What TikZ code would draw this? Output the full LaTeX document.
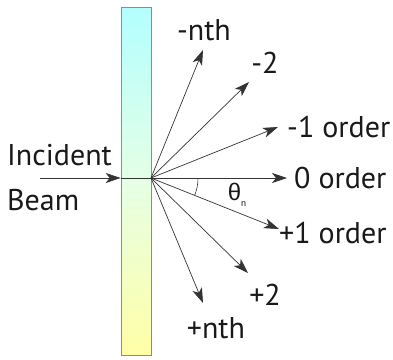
\documentclass[tikz,border=0pt]{standalone}
\usepackage{fontspec}
\setmainfont{PT Sans}
\newfontfamily\greekfont{Liberation Sans}
\usetikzlibrary{positioning,arrows.meta}

\begin{document}
\begin{tikzpicture}[
            x=1pt, y=-1pt,
            every node/.style={font=\fontsize{30}{32}\selectfont, inner sep=0pt, text=black!90},
            beam/.style={draw=black!80, line width=0.7pt, -{Stealth[length=15pt,width=10pt,inset=4pt]}},
            grating/.style={draw=black!45, line width=0.6pt, top color=cyan!30, bottom color=yellow!35,
                            middle color=green!10, minimum width=30pt, minimum height=348pt}
        ]
            \useasboundingbox (0,0) rectangle (393,359);

            % Grating and diffraction point
            \node[grating] (grating) at (136,181) {};
            \coordinate (o) at (151,178);

            % Incident beam
            \coordinate (src) at (40,178);
            \coordinate (hit) at (grating.west |- o);
            \draw[beam] (src) -- (hit);
            \draw[draw=black!80, line width=0.7pt] (hit) -- (o);
            \node[anchor=west] (inc) at (7,155) {Incident};
            \node[anchor=west] (bm) at (7,200) {Beam};

            % Diffracted orders
            \coordinate (mn) at (203,50);
            \coordinate (m2) at (249,82);
            \coordinate (m1) at (278,127);
            \coordinate (z0) at (287,178);
            \coordinate (p1) at (279,229);
            \coordinate (p2) at (248,273);
            \coordinate (pn) at (203,303);
            \foreach \t in {mn,m2,m1,z0,p1,p2,pn}
                \draw[beam] (o) -- (\t);

            % Labels
            \node (lmn) at (204,30) {-nth};
            \node (lm2) at (265,63) {-2};
            \node[anchor=west] (lm1) at (287,127) {-1 order};
            \node[anchor=west] (lz0) at (294,178) {0 order};
            \node[anchor=west] (lp1) at (279,233) {+1 order};
            \node (lp2) at (265,295) {+2};
            \node (lpn) at (216,328) {+nth};

            % Angle
            \draw[draw=black!80, line width=0.6pt] ([shift={(0:47pt)}]o) arc[start angle=0, end angle=-21.6, radius=47pt];
            \node (th) at (237,195) {\greekfont\fontsize{24}{24}\selectfont θ\raisebox{-0.45ex}{\fontsize{9}{9}\selectfont n}};
        \end{tikzpicture}
\end{document}
